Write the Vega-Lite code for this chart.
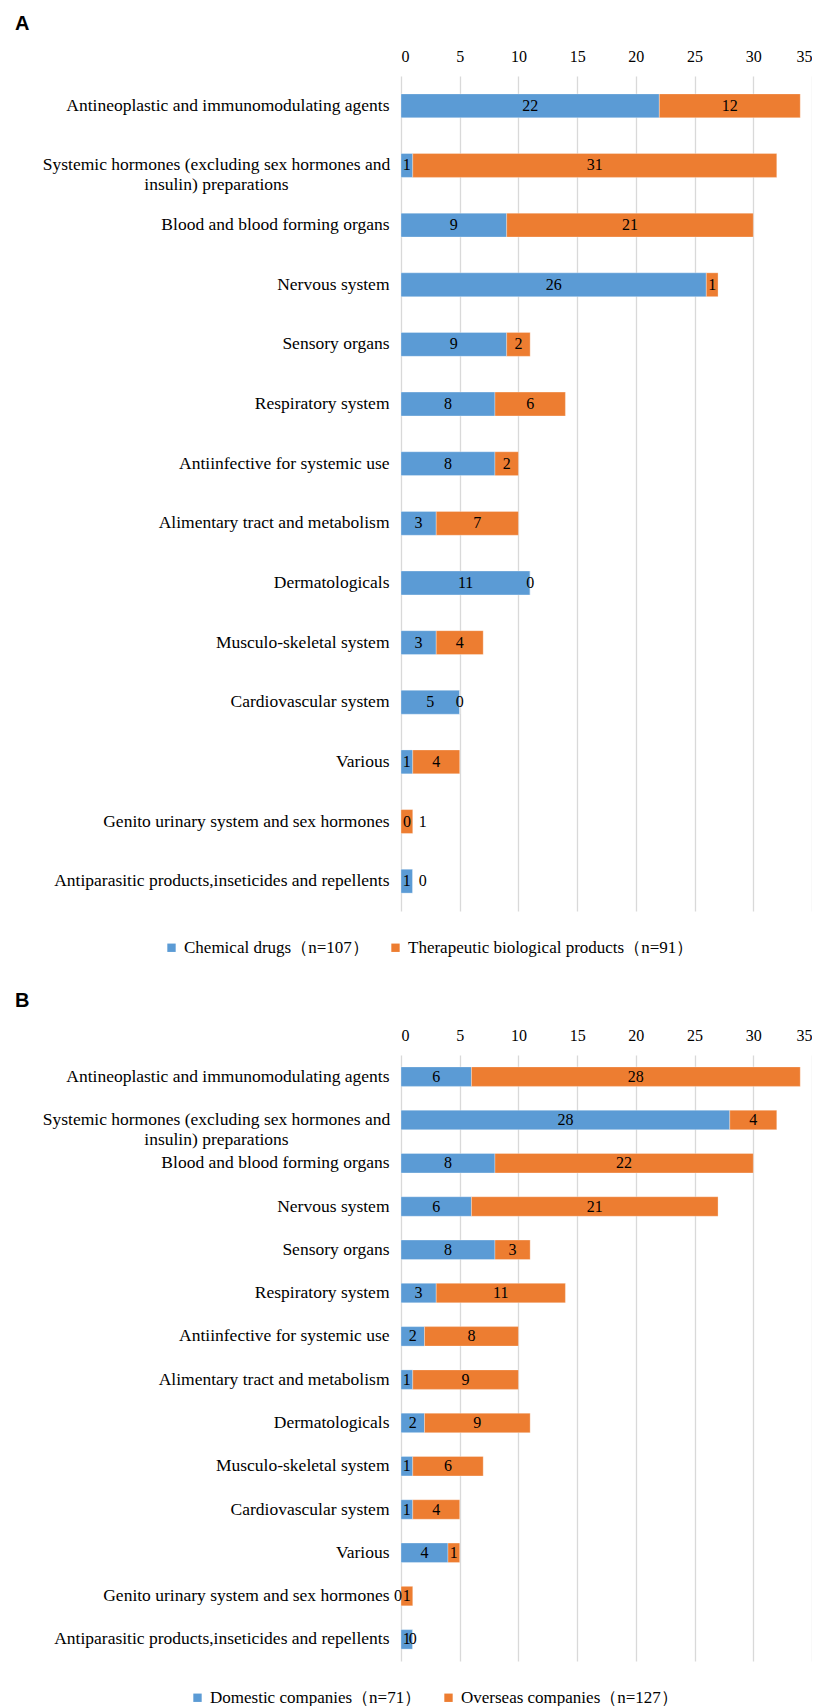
{
  "$schema": "https://vega.github.io/schema/vega-lite/v6.json",
  "background": "white",
  "padding": {"left": 15, "top": 14, "right": 0, "bottom": 0},
  "spacing": 35,
  "config": {
    "view": {"stroke": null},
    "font": "Liberation Serif",
    "title": {"font": "Liberation Sans", "fontWeight": "bold", "fontSize": 20, "color": "#000000", "anchor": "start", "frame": "group"},
    "axisX": {"orient": "top", "grid": true, "gridColor": "#d9d9d9", "gridWidth": 1.3, "domain": false, "ticks": false, "labelFont": "Liberation Serif", "labelFontSize": 16, "labelColor": "#000000", "labelPadding": 12, "title": null, "values": [0, 5, 10, 15, 20, 25, 30, 35], "format": "d"},
    "axisY": {"domain": false, "ticks": false, "grid": false, "labelFont": "Liberation Serif", "labelFontSize": 17.5, "labelColor": "#000000", "labelLimit": 600, "labelLineHeight": 20, "title": null},
    "legend": {"orient": "none", "direction": "horizontal", "title": null, "symbolType": "square", "symbolSize": 70, "symbolStrokeWidth": 0, "labelFont": "Liberation Serif", "labelFontSize": 17, "labelColor": "#000000", "labelLimit": 0, "columnPadding": 18, "labelOffset": 4, "padding": 0}
  },
  "datasets": {
    "a": [
      {"category": "Antineoplastic and immunomodulating agents", "series": "Chemical drugs（n=107）", "value": 22},
      {"category": "Antineoplastic and immunomodulating agents", "series": "Therapeutic biological products（n=91）", "value": 12},
      {"category": "Systemic hormones (excluding sex hormones and insulin) preparations", "series": "Chemical drugs（n=107）", "value": 1},
      {"category": "Systemic hormones (excluding sex hormones and insulin) preparations", "series": "Therapeutic biological products（n=91）", "value": 31},
      {"category": "Blood and blood forming organs", "series": "Chemical drugs（n=107）", "value": 9},
      {"category": "Blood and blood forming organs", "series": "Therapeutic biological products（n=91）", "value": 21},
      {"category": "Nervous system", "series": "Chemical drugs（n=107）", "value": 26},
      {"category": "Nervous system", "series": "Therapeutic biological products（n=91）", "value": 1},
      {"category": "Sensory organs", "series": "Chemical drugs（n=107）", "value": 9},
      {"category": "Sensory organs", "series": "Therapeutic biological products（n=91）", "value": 2},
      {"category": "Respiratory system", "series": "Chemical drugs（n=107）", "value": 8},
      {"category": "Respiratory system", "series": "Therapeutic biological products（n=91）", "value": 6},
      {"category": "Antiinfective for systemic use", "series": "Chemical drugs（n=107）", "value": 8},
      {"category": "Antiinfective for systemic use", "series": "Therapeutic biological products（n=91）", "value": 2},
      {"category": "Alimentary tract and metabolism", "series": "Chemical drugs（n=107）", "value": 3},
      {"category": "Alimentary tract and metabolism", "series": "Therapeutic biological products（n=91）", "value": 7},
      {"category": "Dermatologicals", "series": "Chemical drugs（n=107）", "value": 11},
      {"category": "Dermatologicals", "series": "Therapeutic biological products（n=91）", "value": 0},
      {"category": "Musculo-skeletal system", "series": "Chemical drugs（n=107）", "value": 3},
      {"category": "Musculo-skeletal system", "series": "Therapeutic biological products（n=91）", "value": 4},
      {"category": "Cardiovascular system", "series": "Chemical drugs（n=107）", "value": 5},
      {"category": "Cardiovascular system", "series": "Therapeutic biological products（n=91）", "value": 0},
      {"category": "Various", "series": "Chemical drugs（n=107）", "value": 1},
      {"category": "Various", "series": "Therapeutic biological products（n=91）", "value": 4},
      {"category": "Genito urinary system and sex hormones", "series": "Chemical drugs（n=107）", "value": 0},
      {"category": "Genito urinary system and sex hormones", "series": "Therapeutic biological products（n=91）", "value": 1},
      {"category": "Antiparasitic products,inseticides and repellents", "series": "Chemical drugs（n=107）", "value": 1},
      {"category": "Antiparasitic products,inseticides and repellents", "series": "Therapeutic biological products（n=91）", "value": 0}
    ],
    "b": [
      {"category": "Antineoplastic and immunomodulating agents", "series": "Domestic companies（n=71）", "value": 6},
      {"category": "Antineoplastic and immunomodulating agents", "series": "Overseas companies（n=127）", "value": 28},
      {"category": "Systemic hormones (excluding sex hormones and insulin) preparations", "series": "Domestic companies（n=71）", "value": 28},
      {"category": "Systemic hormones (excluding sex hormones and insulin) preparations", "series": "Overseas companies（n=127）", "value": 4},
      {"category": "Blood and blood forming organs", "series": "Domestic companies（n=71）", "value": 8},
      {"category": "Blood and blood forming organs", "series": "Overseas companies（n=127）", "value": 22},
      {"category": "Nervous system", "series": "Domestic companies（n=71）", "value": 6},
      {"category": "Nervous system", "series": "Overseas companies（n=127）", "value": 21},
      {"category": "Sensory organs", "series": "Domestic companies（n=71）", "value": 8},
      {"category": "Sensory organs", "series": "Overseas companies（n=127）", "value": 3},
      {"category": "Respiratory system", "series": "Domestic companies（n=71）", "value": 3},
      {"category": "Respiratory system", "series": "Overseas companies（n=127）", "value": 11},
      {"category": "Antiinfective for systemic use", "series": "Domestic companies（n=71）", "value": 2},
      {"category": "Antiinfective for systemic use", "series": "Overseas companies（n=127）", "value": 8},
      {"category": "Alimentary tract and metabolism", "series": "Domestic companies（n=71）", "value": 1},
      {"category": "Alimentary tract and metabolism", "series": "Overseas companies（n=127）", "value": 9},
      {"category": "Dermatologicals", "series": "Domestic companies（n=71）", "value": 2},
      {"category": "Dermatologicals", "series": "Overseas companies（n=127）", "value": 9},
      {"category": "Musculo-skeletal system", "series": "Domestic companies（n=71）", "value": 1},
      {"category": "Musculo-skeletal system", "series": "Overseas companies（n=127）", "value": 6},
      {"category": "Cardiovascular system", "series": "Domestic companies（n=71）", "value": 1},
      {"category": "Cardiovascular system", "series": "Overseas companies（n=127）", "value": 4},
      {"category": "Various", "series": "Domestic companies（n=71）", "value": 4},
      {"category": "Various", "series": "Overseas companies（n=127）", "value": 1},
      {"category": "Genito urinary system and sex hormones", "series": "Domestic companies（n=71）", "value": 0},
      {"category": "Genito urinary system and sex hormones", "series": "Overseas companies（n=127）", "value": 1},
      {"category": "Antiparasitic products,inseticides and repellents", "series": "Domestic companies（n=71）", "value": 1},
      {"category": "Antiparasitic products,inseticides and repellents", "series": "Overseas companies（n=127）", "value": 0}
    ]
  },
  "vconcat": [
    {
      "title": {"text": "A", "dx": -386, "offset": 14},
      "width": 411,
      "height": 835,
      "data": {"name": "a"},
      "transform": [
        {"stack": "value", "groupby": ["category"], "sort": [{"field": "series", "order": "ascending"}], "as": ["v0", "v1"]},
        {"calculate": "(datum.v0 + datum.v1) / 2", "as": "mid"}
      ],
      "encoding": {
        "y": {
          "field": "category", "type": "nominal",
          "sort": ["Antineoplastic and immunomodulating agents", "Systemic hormones (excluding sex hormones and insulin) preparations", "Blood and blood forming organs", "Nervous system", "Sensory organs", "Respiratory system", "Antiinfective for systemic use", "Alimentary tract and metabolism", "Dermatologicals", "Musculo-skeletal system", "Cardiovascular system", "Various", "Genito urinary system and sex hormones", "Antiparasitic products,inseticides and repellents"],
          "scale": {"paddingInner": 0.6, "paddingOuter": 0.3},
          "axis": {
            "labelExpr": "indexof(datum.value, 'Systemic') == 0 ? ['Systemic hormones (excluding sex hormones and', 'insulin) preparations'] : datum.label",
            "labelAlign": {"condition": {"test": "indexof(datum.value, 'Systemic') == 0", "value": "center"}, "value": "right"},
            "labelPadding": {"condition": {"test": "indexof(datum.value, 'Systemic') == 0", "value": 185}, "value": 12}
          }
        }
      },
      "layer": [
        {
          "mark": {"type": "bar", "stroke": "#ffffff", "strokeOpacity": 0.5, "strokeWidth": 0.6},
          "encoding": {
            "x": {"field": "v0", "type": "quantitative", "scale": {"domain": [0, 35], "nice": false}},
            "x2": {"field": "v1"},
            "color": {
              "field": "series", "type": "nominal",
              "scale": {"domain": ["Chemical drugs（n=107）", "Therapeutic biological products（n=91）"], "range": ["#5b9bd5", "#ed7d31"]},
              "legend": {"legendX": -238, "legendY": 863, "labelFont": "Liberation Serif", "labelLimit": 0}
            }
          }
        },
        {
          "mark": {"type": "text", "fontSize": 16, "font": "Liberation Serif", "color": "#000000",
            "dx": {"expr": "datum.category == 'Genito urinary system and sex hormones' ? (datum.value == 0 ? 6 : 16) : (datum.category == 'Antiparasitic products,inseticides and repellents' && datum.value == 0 ? 10 : 0)"}},
          "encoding": {
            "x": {"field": "mid", "type": "quantitative"},
            "text": {"field": "value", "type": "quantitative"}
          }
        }
      ]
    },
    {
      "title": {"text": "B", "dx": -386, "offset": 16},
      "width": 411,
      "height": 606,
      "data": {"name": "b"},
      "transform": [
        {"stack": "value", "groupby": ["category"], "sort": [{"field": "series", "order": "ascending"}], "as": ["v0", "v1"]},
        {"calculate": "(datum.v0 + datum.v1) / 2", "as": "mid"}
      ],
      "encoding": {
        "y": {
          "field": "category", "type": "nominal",
          "sort": ["Antineoplastic and immunomodulating agents", "Systemic hormones (excluding sex hormones and insulin) preparations", "Blood and blood forming organs", "Nervous system", "Sensory organs", "Respiratory system", "Antiinfective for systemic use", "Alimentary tract and metabolism", "Dermatologicals", "Musculo-skeletal system", "Cardiovascular system", "Various", "Genito urinary system and sex hormones", "Antiparasitic products,inseticides and repellents"],
          "scale": {"paddingInner": 0.55, "paddingOuter": 0.275},
          "axis": {
            "labelExpr": "indexof(datum.value, 'Systemic') == 0 ? ['Systemic hormones (excluding sex hormones and', 'insulin) preparations'] : datum.label",
            "labelAlign": {"condition": {"test": "indexof(datum.value, 'Systemic') == 0", "value": "center"}, "value": "right"},
            "labelPadding": {"condition": {"test": "indexof(datum.value, 'Systemic') == 0", "value": 185}, "value": 12}
          }
        }
      },
      "layer": [
        {
          "mark": {"type": "bar", "stroke": "#ffffff", "strokeOpacity": 0.5, "strokeWidth": 0.6},
          "encoding": {
            "x": {"field": "v0", "type": "quantitative", "scale": {"domain": [0, 35], "nice": false}},
            "x2": {"field": "v1"},
            "color": {
              "field": "series", "type": "nominal",
              "scale": {"domain": ["Domestic companies（n=71）", "Overseas companies（n=127）"], "range": ["#5b9bd5", "#ed7d31"]},
              "legend": {"legendX": -212, "legendY": 634, "labelFont": "Liberation Serif", "labelLimit": 0}
            }
          }
        },
        {
          "mark": {"type": "text", "fontSize": 16, "font": "Liberation Serif", "color": "#000000",
            "dx": {"expr": "datum.category == 'Genito urinary system and sex hormones' && datum.value == 0 ? -3 : 0"}},
          "encoding": {
            "x": {"field": "mid", "type": "quantitative"},
            "text": {"field": "value", "type": "quantitative"}
          }
        }
      ]
    }
  ],
  "resolve": {"scale": {"color": "independent"}}
}
